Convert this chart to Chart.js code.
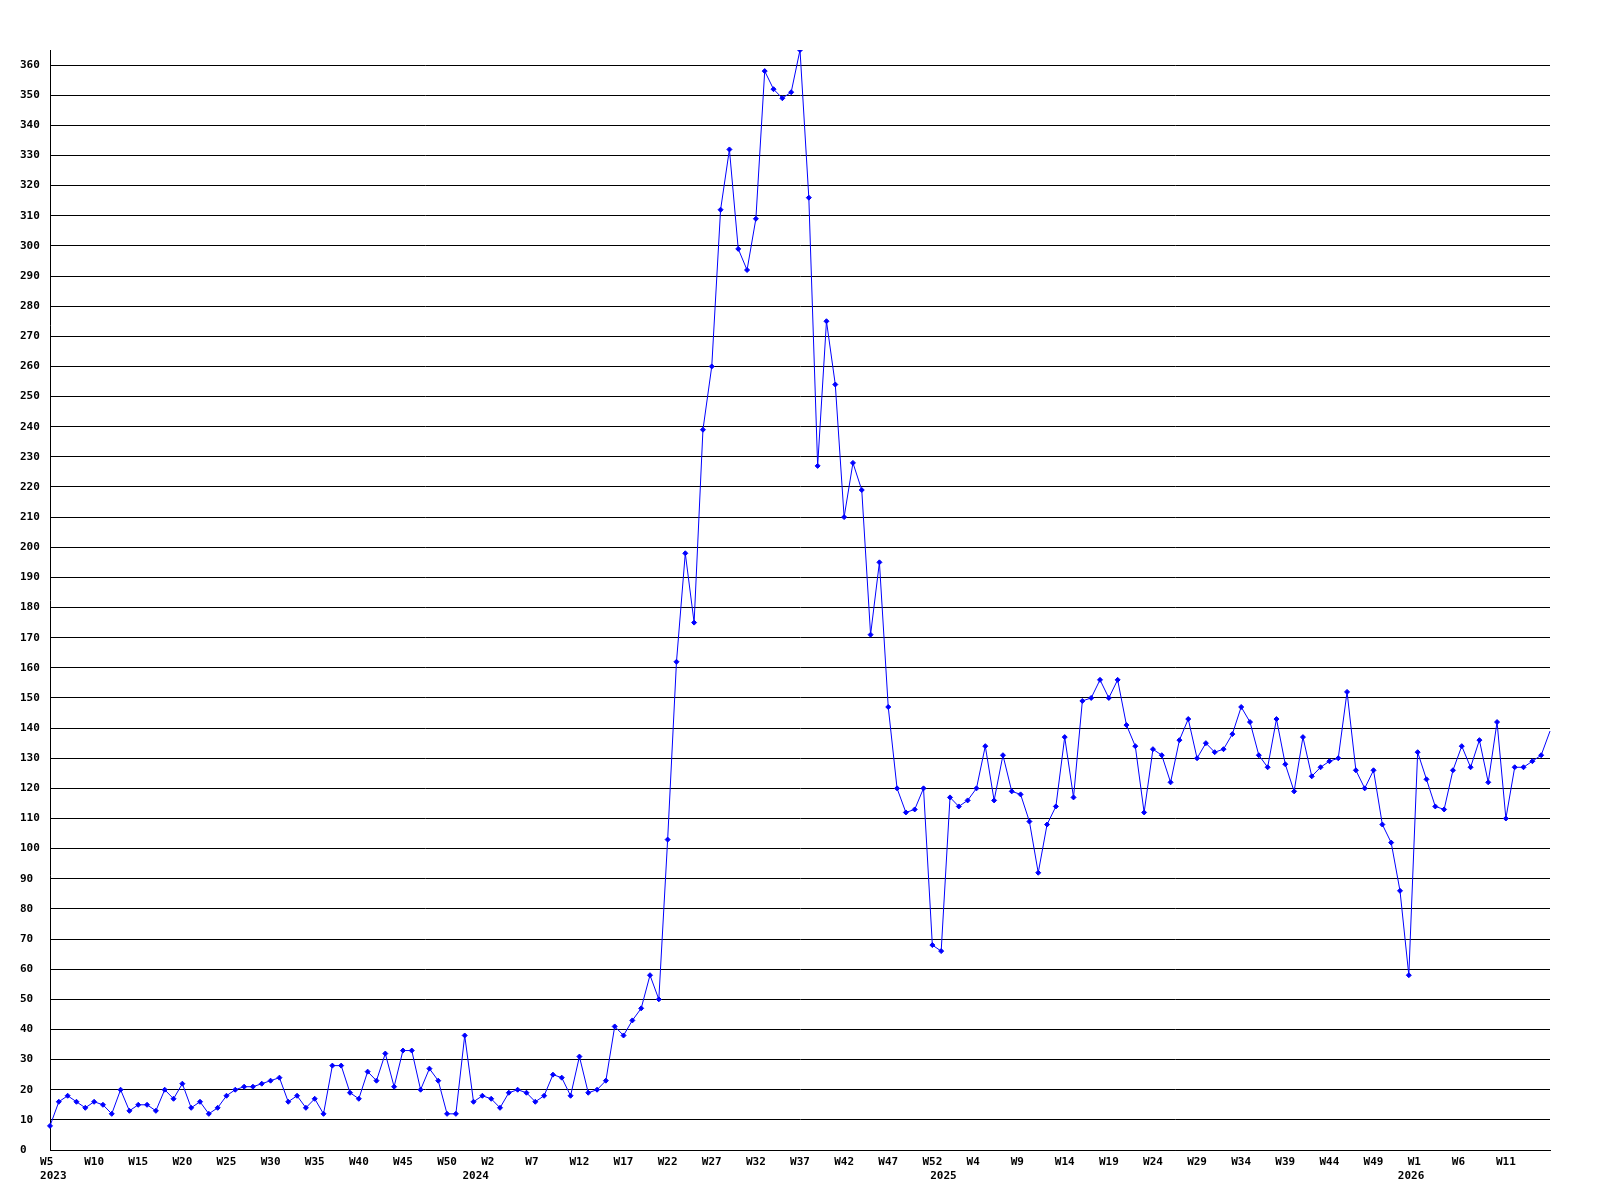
<!DOCTYPE html>
<html>
<head>
<meta charset="utf-8">
<script src="https://cdn.jsdelivr.net/npm/chart.js@4/dist/chart.umd.min.js"></script>
<style>
html,body{margin:0;padding:0;background:#ffffff;}
canvas{display:block;}
</style>
</head>
<body>
<canvas id="c" width="1600" height="1200"></canvas>
<script>
// Week ranges covered by the series: [year, first week, last week]
const weekSegments = [[2023, 5, 53], [2024, 1, 53], [2025, 1, 53], [2026, 1, 16]];

// Weekly values, one per week, in order
const values2023 = [8, 16, 18, 16, 14, 16, 15, 12, 20, 13, 15, 15, 13, 20, 17, 22, 14, 16, 12, 14,
  18, 20, 21, 21, 22, 23, 24, 16, 18, 14, 17, 12, 28, 28, 19, 17, 26, 23, 32, 21,
  33, 33, 20, 27, 23, 12, 12, 38, 16];
const values2024 = [18, 17, 14, 19, 20, 19, 16, 18, 25, 24, 18, 31, 19, 20, 23, 41, 38, 43, 47, 58,
  50, 103, 162, 198, 175, 239, 260, 312, 332, 299, 292, 309, 358, 352, 349, 351, 365, 316, 227, 275,
  254, 210, 228, 219, 171, 195, 147, 120, 112, 113, 120, 68, 66];
const values2025 = [117, 114, 116, 120, 134, 116, 131, 119, 118, 109, 92, 108, 114, 137, 117, 149, 150, 156, 150, 156,
  141, 134, 112, 133, 131, 122, 136, 143, 130, 135, 132, 133, 138, 147, 142, 131, 127, 143, 128, 119,
  137, 124, 127, 129, 130, 152, 126, 120, 126, 108, 102, 86, 58];
const values2026 = [132, 123, 114, 113, 126, 134, 127, 136, 122, 142, 110, 127, 127, 129, 131, 139];

const labelEvery = 5;
const yMin = 0, yMax = 365, yStep = 10;

const categories = [];
const categoryYears = [];
weekSegments.forEach(([year, first, last]) => {
  for (let w = first; w <= last; w++) { categories.push('W' + w); categoryYears.push(year); }
});
const seriesValues = [].concat(values2023, values2024, values2025, values2026);
const lastIndex = seriesValues.length - 1;

const tickFont = { family: "'DejaVu Sans Mono', 'Liberation Mono', monospace", size: 11, weight: 'bold', lineHeight: 1.27 };

new Chart(document.getElementById('c'), {
  type: 'line',
  data: {
    labels: categories,
    datasets: [{
      data: seriesValues,
      borderColor: '#0000ff',
      backgroundColor: '#0000ff',
      borderWidth: 1,
      tension: 0,
      fill: false,
      pointStyle: 'rectRot',
      pointRadius: ctx => ctx.dataIndex === lastIndex ? 0 : 2.5,
      pointBorderWidth: 1,
      pointBackgroundColor: '#0000ff',
      pointBorderColor: '#0000ff'
    }]
  },
  options: {
    responsive: false,
    animation: false,
    devicePixelRatio: 1,
    layout: { padding: { left: 20, top: 50, right: 50, bottom: 0 } },
    plugins: { legend: { display: false }, tooltip: { enabled: false } },
    scales: {
      x: {
        type: 'category',
        offset: false,
        grid: { display: false, drawTicks: false },
        border: { display: true, color: '#000000', width: 1 },
        ticks: {
          autoSkip: false,
          maxRotation: 0,
          minRotation: 0,
          padding: 5,
          color: '#000000',
          font: tickFont,
          callback: function (value, index) {
            let wk = '';
            if (index % labelEvery === 0 && index !== lastIndex) {
              wk = categories[index];
              if (wk.length < 3) wk = wk + ' ';
            }
            const newYear = index === 0 || categoryYears[index] !== categoryYears[index - 1];
            if (newYear) {
              const yr = String(categoryYears[index]);
              return [wk, index === 0 ? ' ' + yr : yr + '  '];
            }
            return wk;
          }
        },
        afterFit: function (scale) { scale.height = 50; }
      },
      y: {
        min: yMin,
        max: yMax,
        grid: { color: '#000000', lineWidth: 1, drawTicks: false },
        border: { display: true, color: '#000000', width: 1 },
        ticks: {
          stepSize: yStep,
          includeBounds: false,
          crossAlign: 'far',
          padding: 0,
          color: '#000000',
          font: tickFont
        },
        afterFit: function (scale) { scale.width = 30; }
      }
    }
  }
});
</script>
</body>
</html>
